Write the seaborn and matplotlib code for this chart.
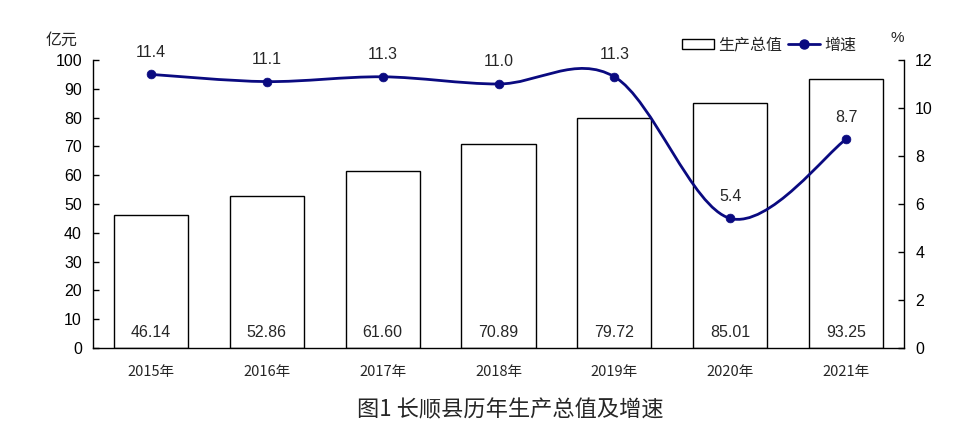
import numpy as np
import matplotlib
matplotlib.use("Agg")
import matplotlib.pyplot as plt
import seaborn as sb
from matplotlib.path import Path
from matplotlib.patches import PathPatch, Patch
from matplotlib.lines import Line2D

years = ['2015年', '2016年', '2017年', '2018年', '2019年', '2020年', '2021年']
gdp = [46.14, 52.86, 61.60, 70.89, 79.72, 85.01, 93.25]
growth = [11.4, 11.1, 11.3, 11.0, 11.3, 5.4, 8.7]

NAVY = '#0A0A80'

sb.set_style("white")
plt.rcParams['font.family'] = ['Liberation Sans', 'Noto Sans CJK SC']

fig = plt.figure(figsize=(9.76, 4.36), dpi=100)
ax = fig.add_axes([0.0953, 0.2018, 0.8310, 0.6606])

sb.barplot(x=years, y=gdp, color='white', edgecolor='black', linewidth=1,
           width=0.64, saturation=1, ax=ax)
ax.set_xlim(-0.5, len(years) - 0.5)
ax.set_ylim(0, 100)
ax.set_yticks(range(0, 101, 10))
ax.tick_params(axis='y', direction='in', length=4, width=1, labelsize=11.5, pad=8, colors='black')
ax.set_xticks(range(len(years)))
ax.set_xticklabels(years, family=['Noto Sans CJK SC'], fontsize=10.5)
ax.tick_params(axis='x', which='major', length=0, pad=12)
ax.set_xticks(np.arange(0.5, len(years) - 1, 1), minor=True)
ax.tick_params(axis='x', which='minor', direction='in', length=5, width=1)
for s in ['left', 'bottom']:
    ax.spines[s].set_color('black')
    ax.spines[s].set_linewidth(1)
ax.spines['top'].set_visible(False)
ax.spines['right'].set_visible(False)
ax.set_xlabel('')
ax.set_ylabel('')

for i, v in enumerate(gdp):
    ax.text(i, 5.5, f'{v:.2f}', ha='center', va='center', fontsize=11.5)

ax2 = ax.twinx()
ax2.set_ylim(0, 12)
ax2.set_yticks(range(0, 13, 2))
ax2.tick_params(axis='y', direction='in', length=4, width=1, labelsize=11.5, pad=8, colors='black')
for s in ['left', 'bottom', 'top']:
    ax2.spines[s].set_visible(False)
ax2.spines['right'].set_color('black')
ax2.spines['right'].set_linewidth(1)

# smoothed line through the points (catmull-rom to bezier)
xs = np.arange(len(growth), dtype=float)
pts = np.column_stack([xs, growth])
verts = [tuple(pts[0])]
codes = [Path.MOVETO]
n = len(pts)
for i in range(n - 1):
    p0 = pts[max(i - 1, 0)]
    p1 = pts[i]
    p2 = pts[i + 1]
    p3 = pts[min(i + 2, n - 1)]
    c1 = p1 + (p2 - p0) / 6
    c2 = p2 - (p3 - p1) / 6
    verts += [tuple(c1), tuple(c2), tuple(p2)]
    codes += [Path.CURVE4] * 3
ax2.add_patch(PathPatch(Path(verts, codes), facecolor='none', edgecolor=NAVY, lw=2.0, zorder=3))
sb.scatterplot(x=xs, y=growth, color=NAVY, s=40, edgecolor=NAVY, zorder=4, ax=ax2, legend=False)

for i, v in enumerate(growth):
    ax2.text(i, v + 0.92, f'{v:.1f}', ha='center', va='center', fontsize=11.5)

fig.text(62 / 976, 1 - 40 / 436, '亿元', ha='center', va='center', fontsize=11.5,
         family=['Noto Sans CJK SC'])
fig.text(897 / 976, 1 - 38 / 436, '%', ha='center', va='center', fontsize=11)

handles = [Patch(facecolor='white', edgecolor='black', linewidth=1),
           Line2D([0], [0], color=NAVY, lw=2.0, marker='o', markersize=6.5)]
fig.legend(handles, ['生产总值', '增速'], loc='center', bbox_to_anchor=(769 / 976, 1 - 45 / 436),
           ncol=2, frameon=False, handlelength=2.0, handleheight=0.55, handletextpad=0.25,
           columnspacing=0.4, prop={'family': 'Noto Sans CJK SC', 'size': 11.5})

fig.text(510 / 976, 1 - 410 / 436, '图1 长顺县历年生产总值及增速', ha='center', va='center',
         fontsize=16, family=['Noto Sans CJK SC'])

plt.savefig('out.png', dpi=100)
